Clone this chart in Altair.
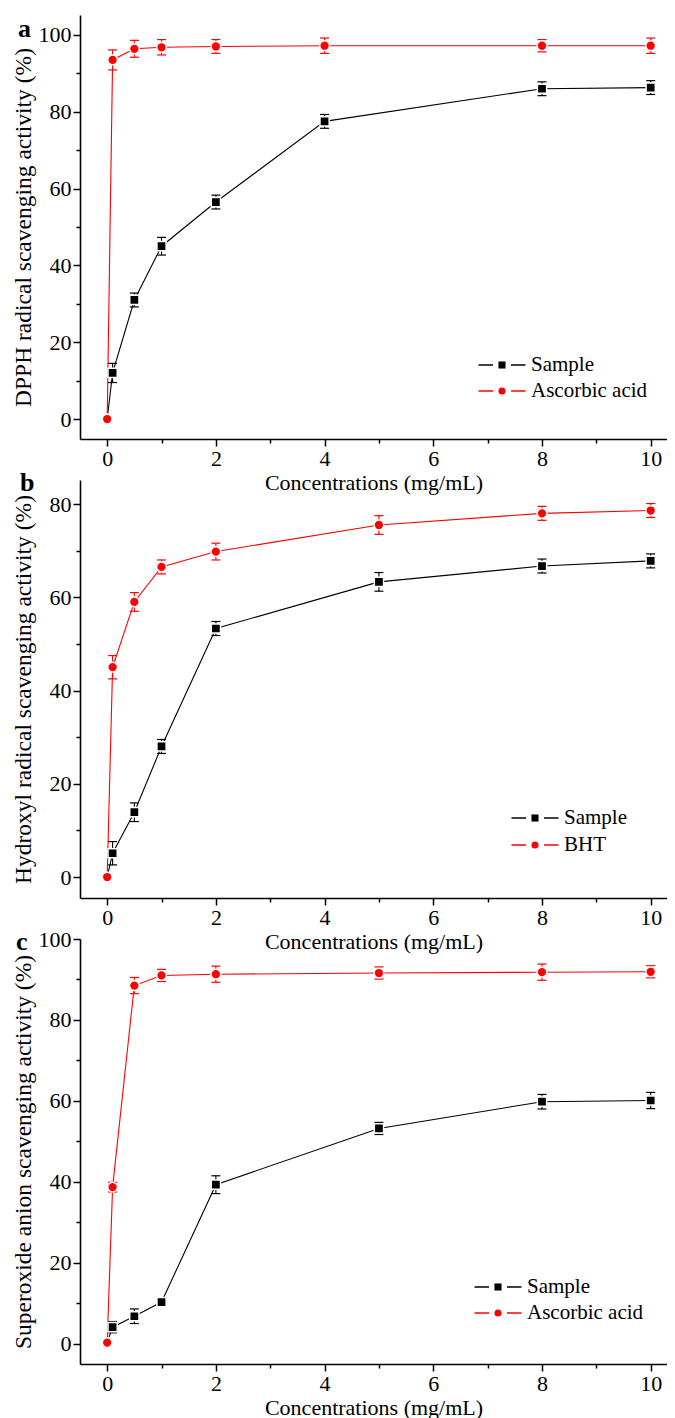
import altair as alt
import pandas as pd

FONT = "Liberation Serif"

# ---------------- data ----------------
x_a = [0, 0.1, 0.5, 1, 2, 4, 8, 10]
sample_a = [0, 12, 31, 45, 56.5, 77.5, 86, 86.3]
sample_a_err = [0.5, 2.5, 1.8, 2.3, 1.8, 1.8, 1.8, 1.8]
ref_a = [0, 93.5, 96.4, 96.8, 97.0, 97.2, 97.2, 97.2]
ref_a_err = [0.5, 2.6, 2.2, 2.0, 1.8, 2.0, 1.6, 2.0]

x_b = [0, 0.1, 0.5, 1, 2, 5, 8, 10]
sample_b = [0, 5.1, 13.9, 28, 53.3, 63.3, 66.7, 67.8]
sample_b_err = [0.5, 2.5, 2.0, 1.5, 1.5, 2.0, 1.5, 1.5]
ref_b = [0, 45, 59, 66.5, 69.8, 75.5, 78, 78.6]
ref_b_err = [0.5, 2.5, 2.0, 1.5, 1.8, 2.0, 1.5, 1.5]

x_c = [0, 0.1, 0.5, 1, 2, 5, 8, 10]
sample_c = [0.3, 4.1, 6.8, 10.3, 39.3, 53.2, 59.8, 60.1]
sample_c_err = [0.5, 1.4, 1.8, 1.0, 2.2, 1.5, 1.8, 2.0]
ref_c = [0.3, 38.7, 88.5, 91.0, 91.3, 91.6, 91.8, 91.9]
ref_c_err = [0.5, 1.2, 2.0, 1.5, 2.0, 1.5, 2.0, 1.5]

sample_name = "Sample"
ref_names = ["Ascorbic acid", "BHT", "Ascorbic acid"]
y_titles = [
    "DPPH radical scavenging activity (%)",
    "Hydroxyl radical scavenging activity (%)",
    "Superoxide anion scavenging activity (%)",
]
letters = ["a", "b", "c"]
x_title = "Concentrations (mg/mL)"
x_ticks = list(range(0, 11))
colors = ["#000000", "#ff0000"]
marker_shapes = ["square", "circle"]

W = 587


def cond_tick(mod, major=7, minor=4):
    return {"condition": {"test": f"datum.value % {mod} !== 0", "value": minor}, "value": major}


def panel(xs, s, se, r, re, ref_name, ytitle, letter, ydomain, yticks, height,
          letter_pos, ytitle_pad, leg_cx, leg_cys):
    rows = []
    for xi, v, e in zip(xs, s, se):
        rows.append({"x": xi, "y": v, "lo": v - e, "hi": v + e, "series": sample_name})
    for xi, v, e in zip(xs, r, re):
        rows.append({"x": xi, "y": v, "lo": v - e, "hi": v + e, "series": ref_name})
    df = pd.DataFrame(rows)
    names = [sample_name, ref_name]

    xaxis = alt.Axis(
        values=x_ticks,
        labelExpr="datum.value % 2 === 0 ? datum.label : ''",
        tickSize=cond_tick(2),
        labelPadding=2, labelFlush=False, labelOverlap=False,
        title=x_title, titleFontSize=22, titlePadding=3, grid=False,
    )
    yaxis = alt.Axis(
        values=yticks,
        labelExpr="datum.value % 20 === 0 ? datum.label : ''",
        tickSize=cond_tick(20),
        labelPadding=2, labelOverlap=False,
        title=ytitle, titleFontSize=23.5, titlePadding=ytitle_pad, grid=False,
    )
    xs_ = alt.Scale(domain=[-0.5, 10.3], nice=False, zero=False)
    ys_ = alt.Scale(domain=ydomain, nice=False, zero=False)
    X = alt.X("x:Q", scale=xs_, axis=xaxis)
    Y = alt.Y("y:Q", scale=ys_, axis=yaxis)
    color = alt.Color("series:N", scale=alt.Scale(domain=names, range=colors), legend=None)

    base = alt.Chart(df)
    line = base.mark_line(strokeWidth=1.1, opacity=1).encode(x=X, y=Y, color=color)
    rule = base.mark_rule(strokeWidth=1.1, opacity=1).encode(
        x=X, y=alt.Y("lo:Q", scale=ys_, axis=yaxis), y2="hi:Q", color=color)
    cap_lo = base.mark_tick(orient="horizontal", size=9, thickness=1.2, opacity=1).encode(
        x=X, y=alt.Y("lo:Q", scale=ys_, axis=yaxis), color=color)
    cap_hi = base.mark_tick(orient="horizontal", size=9, thickness=1.2, opacity=1).encode(
        x=X, y=alt.Y("hi:Q", scale=ys_, axis=yaxis), color=color)
    pts_s = base.transform_filter(alt.datum.series == sample_name).mark_point(
        shape=marker_shapes[0], filled=True, size=85, opacity=1, stroke="white", strokeWidth=1.5
    ).encode(x=X, y=Y, color=color)
    pts_r = base.transform_filter(alt.datum.series == ref_name).mark_point(
        shape=marker_shapes[1], filled=True, size=95, opacity=1, stroke="white", strokeWidth=1.5
    ).encode(x=X, y=Y, color=color)

    layers = [line, rule, cap_lo, cap_hi, pts_s, pts_r]

    # legend (line - marker - line, then label), entries taken from the series names
    ldf = pd.DataFrame({"series": names})
    for name, shp, cy in zip(names, marker_shapes, leg_cys):
        lb = alt.Chart(ldf).transform_filter(alt.datum.series == name)
        layers.append(lb.mark_rule(strokeWidth=1.5, opacity=1).encode(
            x=alt.value(leg_cx - 23.5), x2=alt.value(leg_cx - 9), y=alt.value(cy), color=color))
        layers.append(lb.mark_rule(strokeWidth=1.5, opacity=1).encode(
            x=alt.value(leg_cx + 9), x2=alt.value(leg_cx + 23.5), y=alt.value(cy), color=color))
        layers.append(lb.mark_point(shape=shp, filled=True, size=50, opacity=1).encode(
            x=alt.value(leg_cx), y=alt.value(cy), color=color))
        layers.append(lb.mark_text(align="left", baseline="middle", font=FONT, fontSize=21,
                                   color="black").encode(
            x=alt.value(leg_cx + 29), y=alt.value(cy), text="series:N"))

    # panel letter
    layers.append(alt.Chart(pd.DataFrame({"letter": [letter]})).mark_text(
        align="left", baseline="alphabetic", font=FONT, fontSize=26, fontWeight="bold",
        color="black").encode(x=alt.value(letter_pos[0]), y=alt.value(letter_pos[1]),
                              text="letter:N"))

    return alt.layer(*layers).properties(width=W, height=height)


pa = panel(x_a, sample_a, sample_a_err, ref_a, ref_a_err, ref_names[0], y_titles[0], letters[0],
           [-5.2, 105.2], list(range(0, 101, 10)), 424, (-62, 22), 3, 422, [350, 376])
pb = panel(x_b, sample_b, sample_b_err, ref_b, ref_b_err, ref_names[1], y_titles[1], letters[1],
           [-4.5, 85.15], list(range(0, 81, 10)), 418, (-60, 11), 14, 455, [338, 365])
pc = panel(x_c, sample_c, sample_c_err, ref_c, ref_c_err, ref_names[2], y_titles[2], letters[2],
           [-5, 100], list(range(0, 101, 10)), 425, (-64, 11), 3, 418, [348, 374])

chart = alt.vconcat(pa, pb, pc, spacing=41, bounds="flush").resolve_scale(
    color="independent"
).properties(
    padding={"left": 3, "top": 7, "right": 0, "bottom": 0}
).configure(font=FONT).configure_view(stroke=None).configure_axis(
    domainColor="black", domainWidth=1.6, tickColor="black", tickWidth=1.5,
    labelFont=FONT, labelFontSize=22, labelColor="black",
    titleFont=FONT, titleFontWeight="normal", titleColor="black", grid=False,
)

chart.save("out.html", embed_options={"renderer": "svg", "actions": False})
